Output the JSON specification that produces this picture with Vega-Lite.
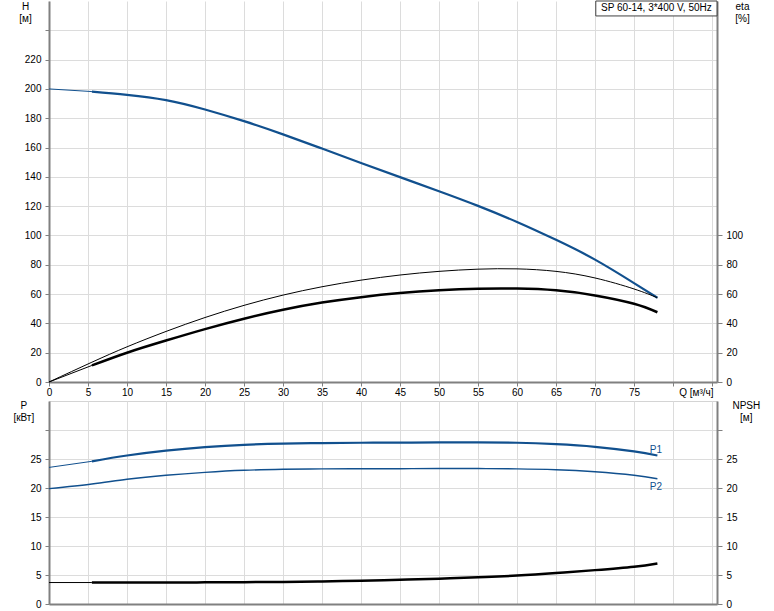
{
  "$schema": "https://vega.github.io/schema/vega-lite/v6.json",
  "padding": {"left": 12, "top": 0, "right": 0, "bottom": 0},
  "spacing": 2,
  "background": "white",
  "datasets": {
    "curves": [
      {"s": "H", "q": 0, "v": 200}, {"s": "H", "q": 5.5, "v": 198.2}, {"s": "H", "q": 10, "v": 196}, {"s": "H", "q": 15, "v": 192.4}, {"s": "H", "q": 20, "v": 186}, {"s": "H", "q": 25, "v": 178}, {"s": "H", "q": 30, "v": 169}, {"s": "H", "q": 35, "v": 159.3}, {"s": "H", "q": 40, "v": 149.5}, {"s": "H", "q": 45, "v": 139.8}, {"s": "H", "q": 50, "v": 130.2}, {"s": "H", "q": 55, "v": 120.2}, {"s": "H", "q": 60, "v": 109.2}, {"s": "H", "q": 65, "v": 97}, {"s": "H", "q": 70, "v": 83.5}, {"s": "H", "q": 75, "v": 67.5}, {"s": "H", "q": 78, "v": 57.5},
      {"s": "E1", "q": 0, "v": 0}, {"s": "E1", "q": 5.5, "v": 13.5}, {"s": "E1", "q": 10, "v": 24}, {"s": "E1", "q": 15, "v": 34.5}, {"s": "E1", "q": 20, "v": 44}, {"s": "E1", "q": 25, "v": 52.3}, {"s": "E1", "q": 30, "v": 59.3}, {"s": "E1", "q": 35, "v": 65}, {"s": "E1", "q": 40, "v": 69.5}, {"s": "E1", "q": 45, "v": 73}, {"s": "E1", "q": 50, "v": 75.5}, {"s": "E1", "q": 55, "v": 77}, {"s": "E1", "q": 60, "v": 77.2}, {"s": "E1", "q": 65, "v": 75.5}, {"s": "E1", "q": 70, "v": 71}, {"s": "E1", "q": 75, "v": 63.5}, {"s": "E1", "q": 78, "v": 57.5},
      {"s": "E2", "q": 0, "v": 0}, {"s": "E2", "q": 5.5, "v": 11.3}, {"s": "E2", "q": 10, "v": 20}, {"s": "E2", "q": 15, "v": 28.3}, {"s": "E2", "q": 20, "v": 36.1}, {"s": "E2", "q": 25, "v": 43.2}, {"s": "E2", "q": 30, "v": 49.3}, {"s": "E2", "q": 35, "v": 54.2}, {"s": "E2", "q": 40, "v": 57.9}, {"s": "E2", "q": 45, "v": 60.7}, {"s": "E2", "q": 50, "v": 62.6}, {"s": "E2", "q": 55, "v": 63.7}, {"s": "E2", "q": 60, "v": 63.8}, {"s": "E2", "q": 65, "v": 62.6}, {"s": "E2", "q": 70, "v": 59.1}, {"s": "E2", "q": 75, "v": 53.4}, {"s": "E2", "q": 78, "v": 47.6},
      {"s": "P1", "q": 0, "v": 23.55}, {"s": "P1", "q": 5.5, "v": 24.6}, {"s": "P1", "q": 10, "v": 25.6}, {"s": "P1", "q": 15, "v": 26.45}, {"s": "P1", "q": 20, "v": 27.05}, {"s": "P1", "q": 25, "v": 27.45}, {"s": "P1", "q": 30, "v": 27.65}, {"s": "P1", "q": 35, "v": 27.75}, {"s": "P1", "q": 40, "v": 27.8}, {"s": "P1", "q": 45, "v": 27.82}, {"s": "P1", "q": 50, "v": 27.85}, {"s": "P1", "q": 55, "v": 27.88}, {"s": "P1", "q": 60, "v": 27.8}, {"s": "P1", "q": 65, "v": 27.55}, {"s": "P1", "q": 70, "v": 27.1}, {"s": "P1", "q": 75, "v": 26.3}, {"s": "P1", "q": 78, "v": 25.6},
      {"s": "P2", "q": 0, "v": 19.9}, {"s": "P2", "q": 5.5, "v": 20.7}, {"s": "P2", "q": 10, "v": 21.5}, {"s": "P2", "q": 15, "v": 22.2}, {"s": "P2", "q": 20, "v": 22.7}, {"s": "P2", "q": 25, "v": 23.05}, {"s": "P2", "q": 30, "v": 23.22}, {"s": "P2", "q": 35, "v": 23.3}, {"s": "P2", "q": 40, "v": 23.32}, {"s": "P2", "q": 45, "v": 23.33}, {"s": "P2", "q": 50, "v": 23.35}, {"s": "P2", "q": 55, "v": 23.35}, {"s": "P2", "q": 60, "v": 23.3}, {"s": "P2", "q": 65, "v": 23.15}, {"s": "P2", "q": 70, "v": 22.8}, {"s": "P2", "q": 75, "v": 22.2}, {"s": "P2", "q": 78, "v": 21.6},
      {"s": "N", "q": 0, "v": 3.7}, {"s": "N", "q": 5.5, "v": 3.7}, {"s": "N", "q": 10, "v": 3.7}, {"s": "N", "q": 15, "v": 3.71}, {"s": "N", "q": 20, "v": 3.73}, {"s": "N", "q": 25, "v": 3.76}, {"s": "N", "q": 30, "v": 3.81}, {"s": "N", "q": 35, "v": 3.9}, {"s": "N", "q": 40, "v": 4.02}, {"s": "N", "q": 45, "v": 4.17}, {"s": "N", "q": 50, "v": 4.36}, {"s": "N", "q": 55, "v": 4.6}, {"s": "N", "q": 60, "v": 4.9}, {"s": "N", "q": 65, "v": 5.33}, {"s": "N", "q": 70, "v": 5.84}, {"s": "N", "q": 75, "v": 6.43}, {"s": "N", "q": 78, "v": 7.0}
    ]
  },
  "vconcat": [
    {
      "width": 668,
      "height": 381,
      "view": {"stroke": null},
      "data": {"name": "curves"},
      "encoding": {
        "x": {"field": "q", "type": "quantitative", "scale": {"domain": [0, 85.64], "nice": false, "zero": false},
          "axis": {"values": [0, 5, 10, 15, 20, 25, 30, 35, 40, 45, 50, 55, 60, 65, 70, 75, 80, 85], "labelExpr": "datum.value >= 80 ? '' : format(datum.value, 'd')", "labelFlush": false, "labelOverlap": false, "labelSeparation": 0, "labelPadding": 1, "grid": true,
            "title": "Q [м³/ч]", "titleX": 664, "titleY": 5, "titleAlign": "right", "titleBaseline": "top"}}
      },
      "resolve": {"scale": {"y": "independent"}},
      "layer": [
        {
          "encoding": {
            "y": {"field": "v", "type": "quantitative", "scale": {"domain": [0, 260], "nice": false, "zero": false},
              "axis": {"values": [0, 20, 40, 60, 80, 100, 120, 140, 160, 180, 200, 220, 240], "labelExpr": "datum.value > 220 ? '' : datum.label", "labelOverlap": false, "labelPadding": 4, "grid": true,
                "title": ["H", "[м]"], "titleAngle": 0, "titleAlign": "center", "titleBaseline": "top", "titleX": -24, "titleY": 0, "titleLineHeight": 12.5}}
          },
          "layer": [
            {"transform": [{"filter": "datum.s == 'H' && datum.q <= 5.5"}], "mark": {"type": "line", "color": "#11508e", "strokeWidth": 1, "interpolate": "natural"}},
            {"transform": [{"filter": "datum.s == 'H' && datum.q >= 5.5"}], "mark": {"type": "line", "color": "#11508e", "strokeWidth": 2.2, "interpolate": "natural"}}
          ]
        },
        {
          "encoding": {
            "y": {"field": "v", "type": "quantitative", "scale": {"domain": [0, 260], "nice": false, "zero": false},
              "axis": {"orient": "right", "values": [0, 20, 40, 60, 80, 100], "labelOverlap": false, "labelPadding": 4, "tickSize": 5, "grid": false,
                "title": ["eta", "[%]"], "titleAngle": 0, "titleAlign": "center", "titleBaseline": "top", "titleX": 25, "titleY": 0, "titleLineHeight": 12.5}}
          },
          "layer": [
            {"transform": [{"filter": "datum.s == 'E1'"}], "mark": {"type": "line", "color": "#000000", "strokeWidth": 1, "interpolate": "natural"}},
            {"transform": [{"filter": "datum.s == 'E2' && datum.q <= 5.5"}], "mark": {"type": "line", "color": "#000000", "strokeWidth": 1, "interpolate": "natural"}},
            {"transform": [{"filter": "datum.s == 'E2' && datum.q >= 5.5"}], "mark": {"type": "line", "color": "#000000", "strokeWidth": 2.5, "interpolate": "natural"}}
          ]
        },
        {
          "transform": [{"filter": "datum.s == 'H' && datum.q == 0"}],
          "layer": [
            {
              "mark": {"type": "rect", "fill": "white", "stroke": "#404040", "strokeWidth": 1},
              "encoding": {
                "x": {"datum": 70.1, "type": "quantitative"},
                "x2": {"datum": 85.64},
                "y": {"datum": 260, "type": "quantitative", "scale": {"domain": [0, 260], "nice": false, "zero": false}, "axis": null},
                "y2": {"datum": 249.8}
              }
            },
            {
              "mark": {"type": "text", "fontSize": 10, "align": "center", "baseline": "middle", "color": "#000000", "text": "SP 60-14, 3*400 V, 50Hz"},
              "encoding": {
                "x": {"datum": 77.87, "type": "quantitative"},
                "y": {"datum": 254.9, "type": "quantitative", "axis": null}
              }
            }
          ]
        }
      ]
    },
    {
      "width": 668,
      "height": 203,
      "view": {"stroke": "#d4d4d4"},
      "data": {"name": "curves"},
      "encoding": {
        "x": {"field": "q", "type": "quantitative", "scale": {"domain": [0, 85.64], "nice": false, "zero": false},
          "axis": {"values": [0, 5, 10, 15, 20, 25, 30, 35, 40, 45, 50, 55, 60, 65, 70, 75, 80, 85], "labels": false, "ticks": false, "grid": true, "title": null}}
      },
      "resolve": {"scale": {"y": "independent"}},
      "layer": [
        {
          "encoding": {
            "y": {"field": "v", "type": "quantitative", "scale": {"domain": [0, 35], "nice": false, "zero": false},
              "axis": {"values": [0, 5, 10, 15, 20, 25, 30], "labelExpr": "datum.value > 25 ? '' : datum.label", "labelOverlap": false, "labelPadding": 4, "grid": true,
                "title": ["P", "[кВт]"], "titleAngle": 0, "titleAlign": "center", "titleBaseline": "top", "titleX": -25.7, "titleY": -1, "titleLineHeight": 12.5}}
          },
          "layer": [
            {"transform": [{"filter": "datum.s == 'P1' && datum.q <= 5.5"}], "mark": {"type": "line", "color": "#11508e", "strokeWidth": 1, "interpolate": "natural"}},
            {"transform": [{"filter": "datum.s == 'P1' && datum.q >= 5.5"}], "mark": {"type": "line", "color": "#11508e", "strokeWidth": 2.2, "interpolate": "natural"}},
            {"transform": [{"filter": "datum.s == 'P2'"}], "mark": {"type": "line", "color": "#11508e", "strokeWidth": 1.4, "interpolate": "natural"}},
            {"transform": [{"filter": "datum.s == 'P1' && datum.q == 78"}], "mark": {"type": "text", "text": "P1", "fontSize": 10, "color": "#11508e", "dx": -1.5, "dy": -6, "align": "center", "baseline": "middle"}},
            {"transform": [{"filter": "datum.s == 'P2' && datum.q == 78"}], "mark": {"type": "text", "text": "P2", "fontSize": 10, "color": "#11508e", "dx": -1.5, "dy": 8, "align": "center", "baseline": "middle"}}
          ]
        },
        {
          "encoding": {
            "y": {"field": "v", "type": "quantitative", "scale": {"domain": [0, 35], "nice": false, "zero": false},
              "axis": {"orient": "right", "values": [0, 5, 10, 15, 20, 25, 30], "labelExpr": "datum.value > 25 ? '' : datum.label", "labelOverlap": false, "labelPadding": 4, "tickSize": 5, "grid": false,
                "title": ["NPSH", "[м]"], "titleAngle": 0, "titleAlign": "center", "titleBaseline": "top", "titleX": 28.8, "titleY": -1, "titleLineHeight": 12.5}}
          },
          "layer": [
            {"transform": [{"filter": "datum.s == 'N' && datum.q <= 5.5"}], "mark": {"type": "line", "color": "#000000", "strokeWidth": 1, "interpolate": "natural"}},
            {"transform": [{"filter": "datum.s == 'N' && datum.q >= 5.5"}], "mark": {"type": "line", "color": "#000000", "strokeWidth": 2.5, "interpolate": "natural"}}
          ]
        }
      ]
    }
  ],
  "config": {
    "font": "Liberation Sans",
    "view": {"stroke": null},
    "axis": {
      "domainColor": "#808080", "domainWidth": 2, "tickColor": "#808080", "tickWidth": 1, "tickSize": 4,
      "gridColor": "#dcdcdc", "gridWidth": 1, "labelOverlap": false, "labelFlush": false,
      "labelFont": "Liberation Sans", "labelFontSize": 10, "labelColor": "#000000",
      "titleFont": "Liberation Sans", "titleFontSize": 10, "titleFontWeight": "normal", "titleColor": "#000000"
    }
  }
}
